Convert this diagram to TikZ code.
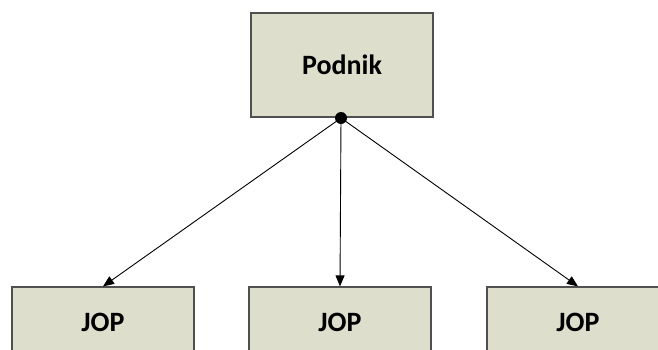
\documentclass[tikz,border=0pt]{standalone}
\usepackage{fontspec}
\setmainfont{Carlito}
\usetikzlibrary{arrows.meta}
\definecolor{boxfill}{RGB}{221,223,204}
\definecolor{boxline}{RGB}{80,80,80}
\tikzset{
  unitbox/.style={draw=boxline, line width=1.2pt, fill=boxfill, minimum width=182pt, inner sep=0pt, font=\bfseries\fontsize{28}{32}\selectfont},
  link/.style={line width=0.9pt, -{Triangle[length=11pt,width=9pt]}}
}
\begin{document}
\begin{tikzpicture}[x=1pt,y=-1pt]
\clip (0,0) rectangle (658,350);
\fill[white] (0,0) rectangle (658,350);
\node[unitbox, minimum height=104pt] (podnik) at (342,65) {Podnik};
\node[unitbox, minimum height=70pt] (jop1) at (103,322) {JOP};
\node[unitbox, minimum height=70pt] (jop2) at (340,322) {JOP};
\node[unitbox, minimum height=70pt] (jop3) at (578,322) {JOP};
\coordinate (hub) at (341,118);
\draw[link] (hub) -- (jop1.north);
\draw[link] (hub) -- (jop2.north);
\draw[link] (hub) -- (jop3.north);
\fill (hub) circle (6pt);
\end{tikzpicture}
\end{document}
